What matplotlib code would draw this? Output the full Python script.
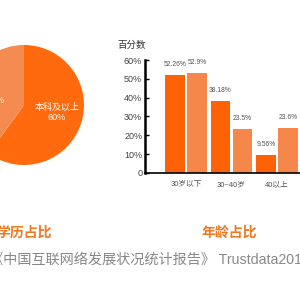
import matplotlib.pyplot as plt
import numpy as np

plt.rcParams['font.family'] = ['Liberation Sans', 'Noto Sans CJK SC', 'DejaVu Sans']

# 学历占比
edu_labels = ['本科及以上\n60%', '40%']
edu_values = [60, 40]

# 年龄占比
age_groups = ['30岁以下', '30~40岁', '40以上']
series_a = [52.26, 38.18, 9.56]
series_b = [52.9, 23.5, 23.6]
yticks = [0, 10, 20, 30, 40, 50, 60]
ytick_labels = ['0', '10%', '20%', '30%', '40%', '50%', '60%']

dark = '#FF6105'
light = '#F5874B'
title_color = '#F07820'

fig = plt.figure(figsize=(3, 3), dpi=100)
fig.patch.set_facecolor('white')

# 饼图(部分在画面外)
ax1 = fig.add_axes([-0.12, 0.45, 0.4, 0.4])
ax1.pie(edu_values, colors=['#FF6A0F', '#F48B50'], startangle=90,
        counterclock=False, wedgeprops=dict(linewidth=0))
ax1.set_xlim(-1, 1)
ax1.set_ylim(-1, 1)
ax1.text(0.55, -0.12, edu_labels[0], color='white', fontsize=6.5,
         ha='center', va='center', linespacing=1.1)
ax1.text(-0.47, 0.08, edu_labels[1], color='white', fontsize=6.5,
         ha='center', va='center')

# 柱状图
ax2 = fig.add_axes([145 / 300, 0.424, 0.55, 0.376])
x = np.arange(len(age_groups))
off = 0.242
w = 0.43
b1 = ax2.bar(x - off, series_a, w, color=dark)
b2 = ax2.bar(x + off, series_b, w, color=light)
for bars, vals in ((b1, series_a), (b2, series_b)):
    for rect, v in zip(bars, vals):
        ax2.annotate(f'{v}%', (rect.get_x() + rect.get_width() / 2, v),
                     xytext=(0, 5), textcoords='offset points',
                     ha='center', va='bottom', fontsize=4.9, color='#555555')
ax2.set_xlim(-0.901, 2.725)
ax2.set_ylim(0, 60)
ax2.set_yticks(yticks)
ax2.set_yticklabels(ytick_labels, fontsize=6.5, color='#444444')
ax2.set_xticks(x)
ax2.set_xticklabels(age_groups, fontsize=5.5, color='#555555')
ax2.tick_params(axis='x', length=0, pad=6)
ax2.tick_params(axis='y', direction='in', length=3, width=1, pad=2)
for s in ('top', 'right'):
    ax2.spines[s].set_visible(False)
ax2.spines['left'].set_linewidth(1.8)
ax2.spines['bottom'].set_linewidth(1.2)
ax2.set_facecolor('none')

fig.text(117 / 300, 1 - 45 / 300, '百分数', fontsize=6.8, color='#333333',
         ha='left', va='center')

fig.text(-0.012, 1 - 233 / 300, '学历占比', fontsize=10, fontweight='bold',
         color=title_color, ha='left', va='center')
fig.text(229 / 300, 1 - 233 / 300, '年龄占比', fontsize=10, fontweight='bold',
         color=title_color, ha='center', va='center')
fig.text(-0.035, 1 - 260 / 300, '《中国互联网络发展状况统计报告》 Trustdata2017',
         fontsize=10.2, color='#888888', ha='left', va='center')

fig.savefig('out.png', dpi=100, facecolor='white')
